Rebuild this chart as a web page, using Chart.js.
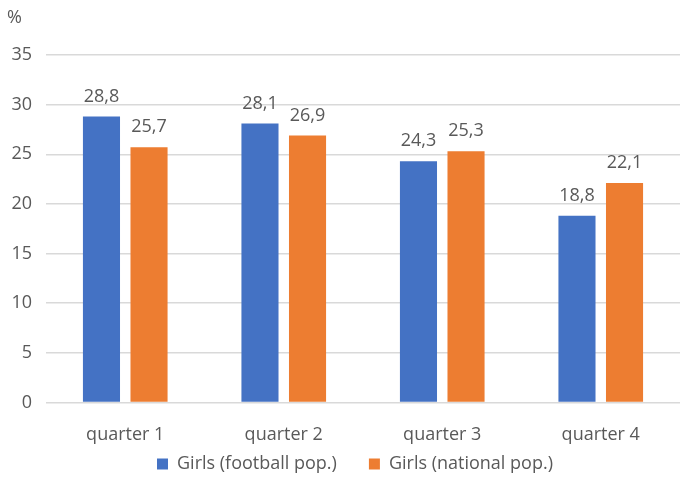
<!DOCTYPE html>
<html>
<head>
<meta charset="utf-8">
<script src="https://cdn.jsdelivr.net/npm/chart.js@4/dist/chart.umd.min.js"></script>
<style>
  html, body { margin: 0; padding: 0; background: #fff; }
  #wrap { width: 691px; height: 488px; position: relative; }
</style>
</head>
<body>
<div id="wrap"><canvas id="c"></canvas></div>
<script>
const categories = ['quarter 1', 'quarter 2', 'quarter 3', 'quarter 4'];
const footballPop = [28.8, 28.1, 24.3, 18.8];
const nationalPop = [25.7, 26.9, 25.3, 22.1];
const seriesNames = ['Girls (football pop.)', 'Girls (national pop.)'];
const yUnit = '%';

const FONT = '"Open Sans", Lato, sans-serif';
const SIZE = 18;
const TEXT = '#595959';

// Writes each bar's value above it, with a decimal comma
const valueLabels = {
  id: 'valueLabels',
  afterDatasetsDraw(chart) {
    const ctx = chart.ctx;
    ctx.save();
    ctx.font = SIZE + 'px ' + FONT;
    ctx.fillStyle = TEXT;
    ctx.textAlign = 'center';
    ctx.textBaseline = 'bottom';
    chart.data.datasets.forEach((ds, i) => {
      chart.getDatasetMeta(i).data.forEach((bar, j) => {
        ctx.fillText(ds.data[j].toFixed(1).replace('.', ','), bar.x, bar.y - 11);
      });
    });
    ctx.restore();
  }
};

// Unit label above the value axis
const unitLabel = {
  id: 'unitLabel',
  afterDraw(chart) {
    const ctx = chart.ctx;
    ctx.save();
    ctx.font = SIZE + 'px ' + FONT;
    ctx.fillStyle = TEXT;
    ctx.textAlign = 'left';
    ctx.textBaseline = 'middle';
    ctx.fillText(yUnit, 7, 18);
    ctx.restore();
  }
};

// Pulls the legend row up closer to the category labels and centres it under the plot
const legendLift = {
  id: 'legendLift',
  afterLayout(chart) {
    const lg = chart.legend;
    if (lg) {
      lg.top -= 45; lg.bottom -= 45;
      lg.left += 15; lg.right += 15;
    }
  }
};

new Chart(document.getElementById('c'), {
  type: 'bar',
  data: {
    labels: categories,
    datasets: [
      { label: seriesNames[0], data: footballPop, backgroundColor: '#4472C4' },
      { label: seriesNames[1], data: nationalPop, backgroundColor: '#ED7D31' }
    ]
  },
  options: {
    responsive: true,
    maintainAspectRatio: false,
    animation: false,
    categoryPercentage: 0.6,
    barPercentage: 0.78,
    layout: { padding: { top: 55, right: 11, left: 0, bottom: -40 } },
    plugins: {
      legend: {
        position: 'bottom',
        labels: {
          boxWidth: 11,
          boxHeight: 11,
          padding: 32,
          color: TEXT,
          font: { family: FONT, size: SIZE }
        }
      },
      tooltip: { enabled: false }
    },
    scales: {
      x: {
        grid: { display: false, drawTicks: false },
        border: { display: false },
        ticks: { color: TEXT, font: { family: FONT, size: SIZE }, padding: 22 }
      },
      y: {
        min: 0,
        max: 35,
        ticks: { stepSize: 5, color: TEXT, font: { family: FONT, size: SIZE }, padding: 14 },
        grid: { color: '#d9d9d9', lineWidth: 1.5, drawTicks: false },
        border: { display: false },
        afterFit(scale) { scale.width = 46; }
      }
    }
  },
  plugins: [valueLabels, unitLabel, legendLift]
});
</script>
</body>
</html>
